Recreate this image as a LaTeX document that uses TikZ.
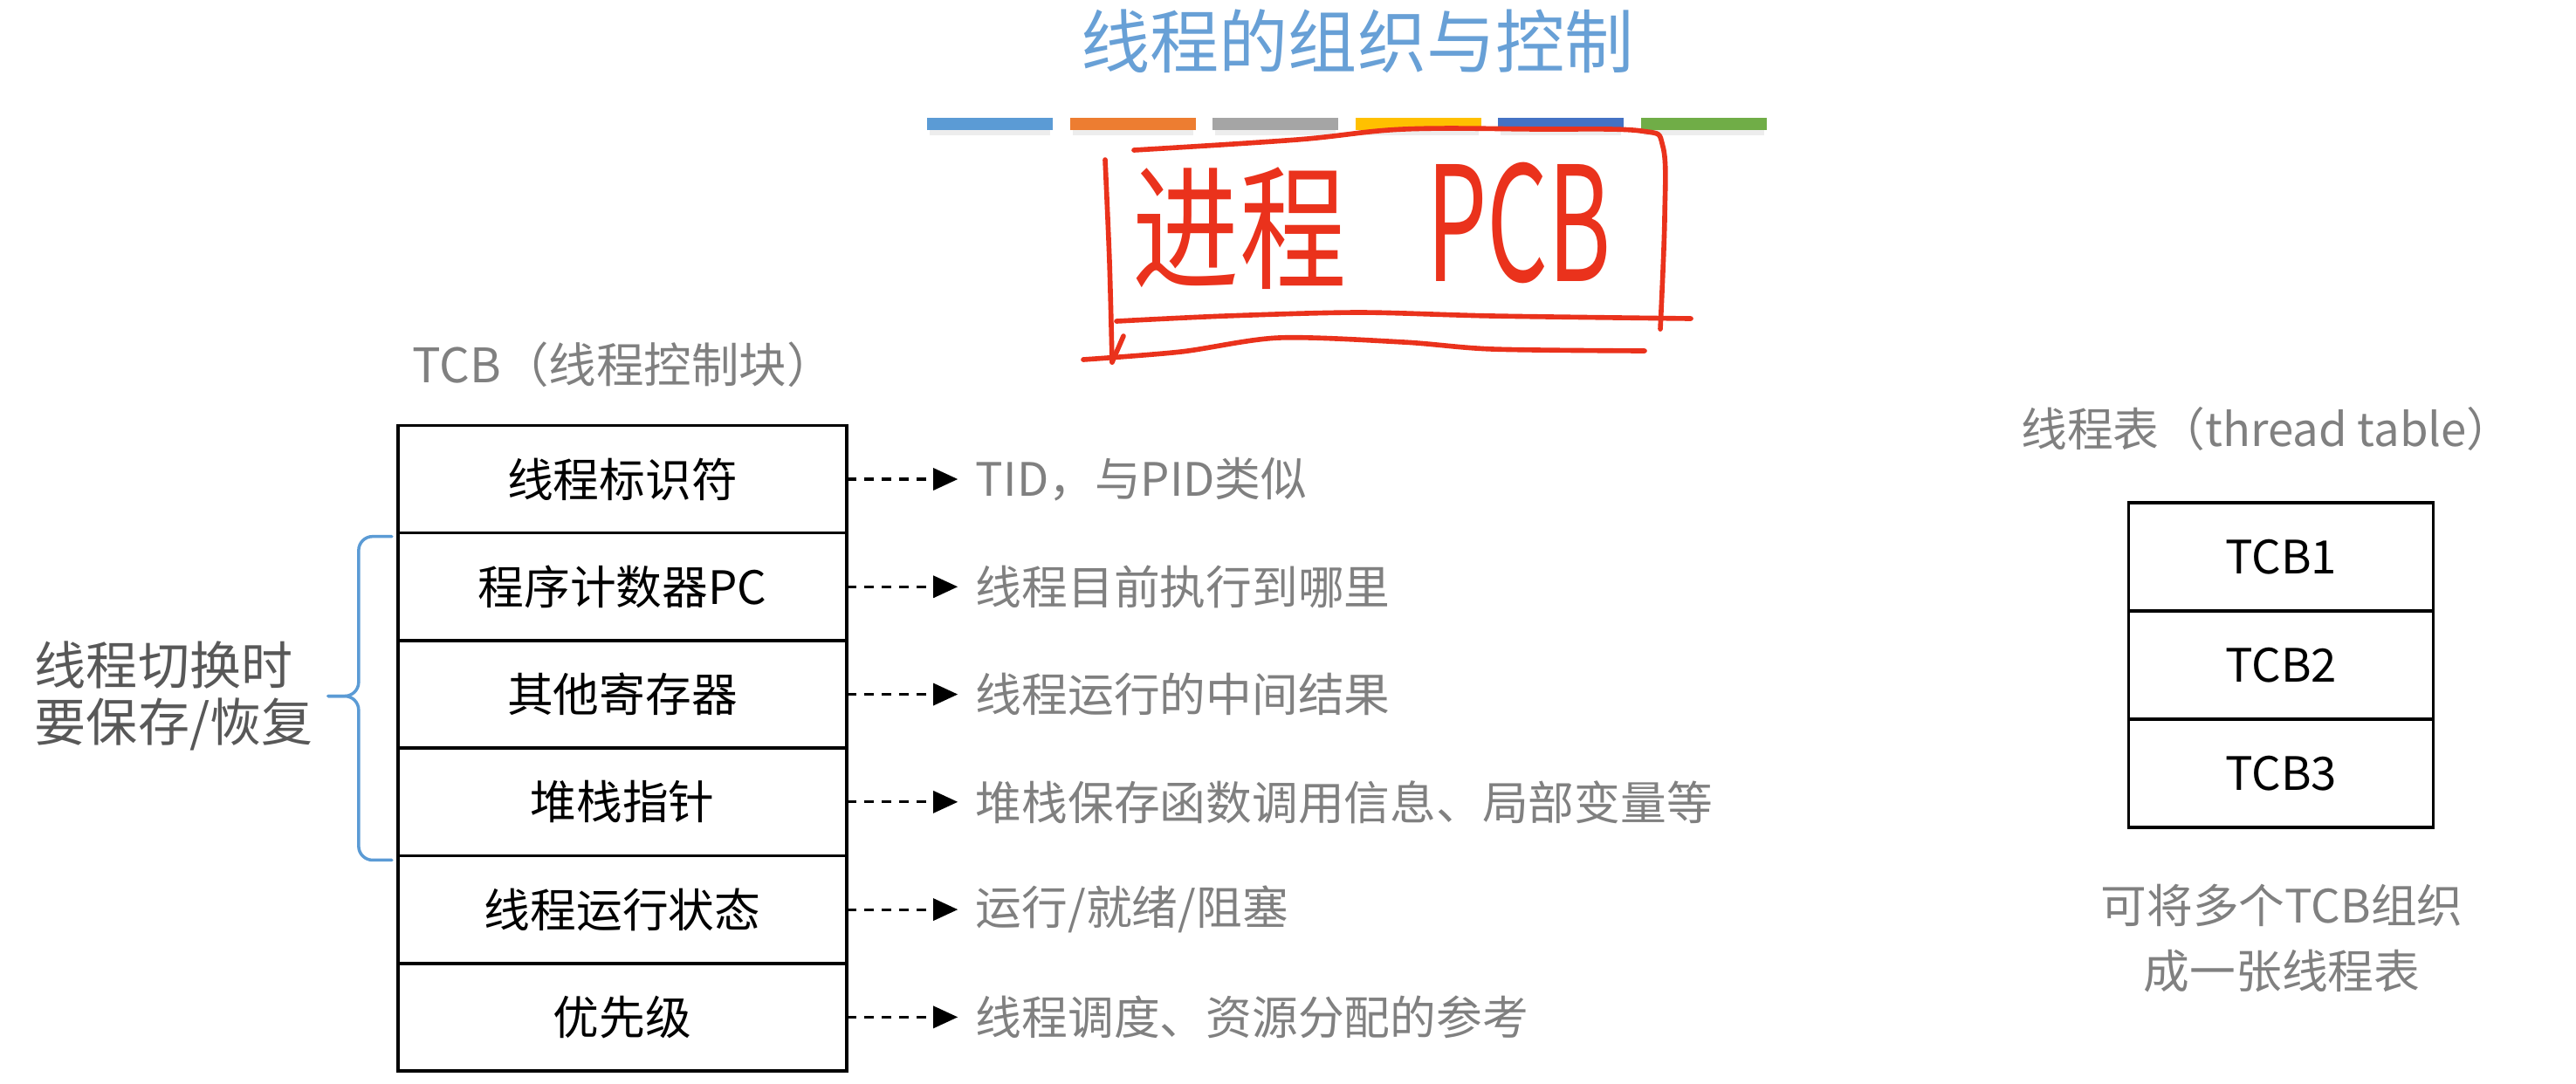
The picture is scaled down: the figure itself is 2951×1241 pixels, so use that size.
\documentclass[tikz,border=0pt]{standalone}
\usepackage{fontspec}
\usepackage{graphicx}
\setmainfont{Noto Sans CJK SC}
\usetikzlibrary{arrows.meta,positioning,calc}
\definecolor{titleblue}{RGB}{104,160,214}
\definecolor{textgray}{RGB}{128,128,128}
\definecolor{notegray}{RGB}{88,88,88}
\definecolor{braceblue}{RGB}{91,155,213}
\definecolor{inkred}{RGB}{234,50,28}
\definecolor{barA}{HTML}{5B9BD5}
\definecolor{barB}{HTML}{ED7D31}
\definecolor{barC}{HTML}{A5A5A5}
\definecolor{barD}{HTML}{FFC000}
\definecolor{barE}{HTML}{4472C4}
\definecolor{barF}{HTML}{70AD47}
\tikzset{
    field/.style={
        draw,
        line width=1pt,
        outer sep=0pt,
        inner sep=0pt,
        minimum width=5.14cm,
        minimum height=1.232cm,
        font=\fontsize{15}{18}\selectfont
    },
    slot/.style={
        field,
        minimum width=3.49cm,
        minimum height=1.24cm
    },
    desc/.style={
        text=textgray,
        inner sep=0.2cm,
        font=\fontsize{15}{18}\selectfont
    },
    heading/.style={
        text=textgray,
        font=\fontsize{15}{18}\selectfont
    },
    ptr/.style={-{Triangle[length=0.28cm,width=0.25cm]}, line width=0.9pt, dash pattern=on 0.11cm off 0.09cm},
    ink/.style={inkred, line width=1.6pt, line cap=round, line join=round},
    savebrace/.style={
        braceblue,
        line width=1pt,
        line cap=round,
        rounded corners=0.16cm
    }
}
\newcommand{\hand}[2]{\scalebox{#1}[1]{#2}}

\begin{document}
\begin{tikzpicture}[x=0.01cm, y=-0.01cm, node distance=0pt]
    \useasboundingbox (0,0) rectangle (2951,1241);
    \fill[white] (0,0) rectangle (2951,1241);

    \node[text=titleblue, font=\fontsize{22.5}{26}\selectfont] (title) at (1555,47) {线程的组织与控制};
    \foreach \c [count=\i from 0] in {barA,barB,barC,barD,barE,barF} {
        \fill[black!7] ({1065+163.5*\i},149) rectangle ++(138,6);
        \fill[\c] ({1062+163.5*\i},135) rectangle ++(144,14);
    }

    \node[text=inkred, inner sep=0pt] (jincheng) at (1420,262) {\hand{0.79}{\fontsize{44}{48}\selectfont 进程}};
    \node[text=inkred, inner sep=0pt] (pcb) at (1740,255) {\hand{0.6}{\fontsize{52}{56}\selectfont PCB}};
    \draw[ink] plot[smooth, tension=0.6] coordinates {(1299,172) (1486,160) (1608,148) (1761,148) (1880,150) (1905,168) (1907,250) (1902,377)};
    \draw[ink] plot[smooth] coordinates {(1266,183) (1271,300) (1274,415)};
    \draw[ink] (1287,385) -- (1274,415);
    \draw[ink] plot[smooth] coordinates {(1279,368) (1404,362) (1557,358) (1710,362) (1937,365)};
    \draw[ink] plot[smooth] coordinates {(1241,412) (1353,403) (1465,387) (1608,392) (1710,400) (1884,402)};

    \node[heading, anchor=west, font=\fontsize{15.5}{18}\selectfont] (tcbhead) at (460,418) {TCB（线程控制块）};
    \node[field] (f1) at (713,549) {线程标识符};
    \node[field, below=of f1] (f2) {程序计数器PC};
    \node[field, below=of f2] (f3) {其他寄存器};
    \node[field, below=of f3] (f4) {堆栈指针};
    \node[field, below=of f4] (f5) {线程运行状态};
    \node[field, below=of f5] (f6) {优先级};

    \node[desc, right=1.27cm of f1] (d1) {TID，与PID类似};
    \node[desc, right=1.27cm of f2] (d2) {线程目前执行到哪里};
    \node[desc, right=1.27cm of f3] (d3) {线程运行的中间结果};
    \node[desc, right=1.27cm of f4] (d4) {堆栈保存函数调用信息、局部变量等};
    \node[desc, right=1.27cm of f5] (d5) {运行/就绪/阻塞};
    \node[desc, right=1.27cm of f6] (d6) {线程调度、资源分配的参考};

    \draw[ptr] (f1) -- (d1);
    \draw[ptr] (f2) -- (d2);
    \draw[ptr] (f3) -- (d3);
    \draw[ptr] (f4) -- (d4);
    \draw[ptr] (f5) -- (d5);
    \draw[ptr] (f6) -- (d6);

    \coordinate (btop) at ($(f2.north west)+(-7,4)$);
    \coordinate (bbot) at ($(f4.south west)+(-7,5)$);
    \coordinate (tip) at ($(f2.north west)!0.5!(f4.south west)+(-80,2)$);
    \draw[savebrace] (btop) -- ++(-38,0) |- (tip);
    \draw[savebrace] (bbot) -- ++(-38,0) |- (tip);
    \node[left=0.05cm of tip, align=left, text=notegray, font=\fontsize{16.8}{18.5}\selectfont] (note) {线程切换时\\要保存/恢复};

    \node[heading] (tablehead) at (2597,491) {线程表（thread table）};
    \node[slot] (t1) at (2613,638) {TCB1};
    \node[slot, below=of t1] (t2) {TCB2};
    \node[slot, below=of t2] (t3) {TCB3};
    \node[desc, align=center, font=\fontsize{15}{21.3}\selectfont] (tablenote) at (2614,1075) {可将多个TCB组织\\成一张线程表};
\end{tikzpicture}
\end{document}
